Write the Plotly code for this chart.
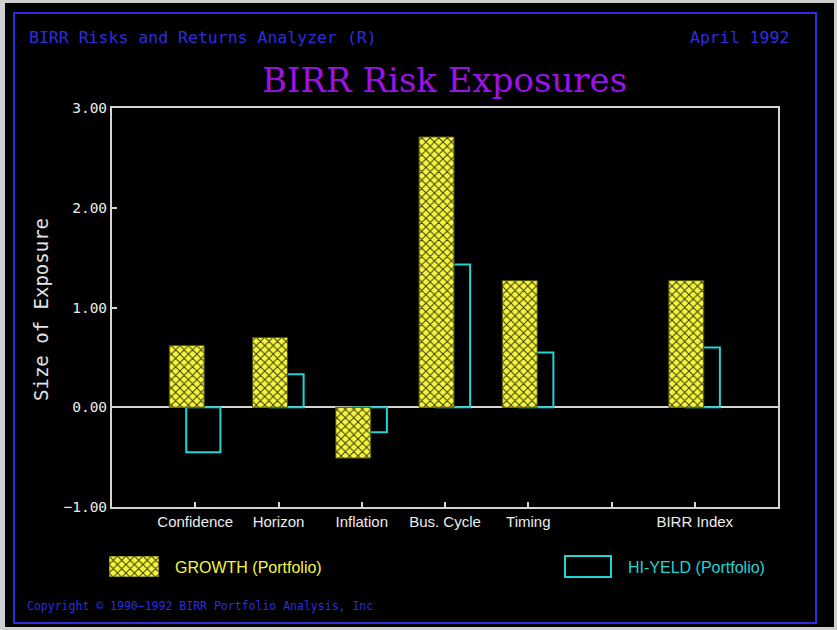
import plotly.graph_objects as go

# ---- data ----
categories = ["Confidence", "Horizon", "Inflation", "Bus. Cycle", "Timing", "", "BIRR Index"]
growth = [0.62, 0.70, -0.51, 2.71, 1.27, None, 1.27]
hi_yield = [-0.45, 0.33, -0.25, 1.43, 0.55, None, 0.60]
series_names = ["GROWTH (Portfolio)", "HI-YELD (Portfolio)"]
y_ticks = [-1, 0, 1, 2, 3]

W, H = 837, 630
def px(x):
    return x / W
def py(y):
    return 1 - y / H

x_pos = list(range(1, len(categories) + 1))

YEL = "#f6f640"
CYAN = "#22d4d4"
BLUE = "#2d2de0"
PURPLE = "#9a12e8"
AXC = "#d4d4d4"

pattern = dict(shape="x", fgcolor="#3a3a08", bgcolor=YEL, size=6, solidity=0.3, fillmode="replace")

fig = go.Figure()
fig.add_trace(go.Bar(
    x=x_pos, y=hi_yield, name=series_names[1], offset=-0.108, width=0.41,
    marker=dict(color="rgba(0,0,0,0)", line=dict(color=CYAN, width=2)),
    showlegend=False,
))
fig.add_trace(go.Bar(
    x=x_pos, y=growth, name=series_names[0], offset=-0.312, width=0.42,
    marker=dict(color=YEL, pattern=pattern, line=dict(color="#505008", width=1)),
    showlegend=False,
))
# legend swatch with pattern (separate tiny axes)
fig.add_trace(go.Bar(
    x=[0.5], y=[1], width=[1], base=[0], xaxis="x2", yaxis="y2",
    marker=dict(color=YEL, pattern=pattern, line=dict(color="#505008", width=1)),
    showlegend=False, hoverinfo="skip",
))

fig.update_layout(
    width=W, height=H,
    margin=dict(l=0, r=0, t=0, b=0, autoexpand=False),
    paper_bgcolor="#cfcfcf",
    plot_bgcolor="rgba(0,0,0,0)",
    barmode="overlay",
    xaxis=dict(
        domain=[px(112), px(778)], range=[0, len(categories) + 1],
        tickvals=x_pos, ticktext=categories,
        ticks="inside", ticklen=5, tickwidth=2, tickcolor=AXC,
        showline=True, linecolor=AXC, linewidth=2, mirror=True,
        showgrid=False, zeroline=False,
        tickfont=dict(family="Liberation Sans", size=15, color="#ececec"),
        fixedrange=True,
    ),
    yaxis=dict(
        domain=[py(507), py(108)], range=[-1, 3],
        tickvals=y_ticks, tickformat=".2f",
        ticks="inside", ticklen=5, tickwidth=2, tickcolor=AXC,
        showline=True, linecolor=AXC, linewidth=2, mirror=True,
        showgrid=False, zeroline=True, zerolinecolor=AXC, zerolinewidth=2,
        tickfont=dict(family="DejaVu Sans Mono", size=14.5, color="#ececec"),
        fixedrange=True,
    ),
    xaxis2=dict(domain=[px(109), px(159)], range=[0, 1], visible=False, fixedrange=True, anchor="y2"),
    yaxis2=dict(domain=[py(577), py(556)], range=[0, 1], visible=False, fixedrange=True, anchor="x2"),
    shapes=[
        dict(type="rect", xref="paper", yref="paper", x0=px(5), x1=px(834), y0=py(3), y1=py(627),
             fillcolor="black", line=dict(width=0), layer="below"),
        dict(type="rect", xref="paper", yref="paper", x0=px(14), x1=px(816), y0=py(13), y1=py(623),
             fillcolor="rgba(0,0,0,0)", line=dict(color=BLUE, width=2), layer="below"),
        dict(type="rect", xref="paper", yref="paper", x0=px(565), x1=px(611), y0=py(556), y1=py(577),
             fillcolor="rgba(0,0,0,0)", line=dict(color=CYAN, width=2)),
    ],
    annotations=[
        dict(text="BIRR Risks and Returns Analyzer (R)", xref="paper", yref="paper",
             x=px(27), y=py(37), xanchor="left", yanchor="middle", showarrow=False,
             font=dict(family="DejaVu Sans Mono", size=16.5, color=BLUE)),
        dict(text="April 1992", xref="paper", yref="paper",
             x=px(791), y=py(37), xanchor="right", yanchor="middle", showarrow=False,
             font=dict(family="DejaVu Sans Mono", size=16.5, color=BLUE)),
        dict(text="BIRR Risk Exposures", xref="paper", yref="paper",
             x=px(445), y=py(80), xanchor="center", yanchor="middle", showarrow=False,
             font=dict(family="DejaVu Serif", size=34, color=PURPLE)),
        dict(text="Size of Exposure", xref="paper", yref="paper", textangle=-90,
             x=px(41), y=py(310), xanchor="center", yanchor="middle", showarrow=False,
             font=dict(family="DejaVu Sans Mono", size=19, color="#e4e4e4")),
        dict(text=series_names[0], xref="paper", yref="paper",
             x=px(173), y=py(567), xanchor="left", yanchor="middle", showarrow=False,
             font=dict(family="Liberation Sans", size=16, color=YEL)),
        dict(text=series_names[1], xref="paper", yref="paper",
             x=px(626), y=py(567), xanchor="left", yanchor="middle", showarrow=False,
             font=dict(family="Liberation Sans", size=16, color=CYAN)),
        dict(text="Copyright © 1990\u20131992 BIRR Portfolio Analysis, Inc", xref="paper", yref="paper",
             x=px(25), y=py(606), xanchor="left", yanchor="middle", showarrow=False,
             font=dict(family="DejaVu Sans Mono", size=11.5, color=BLUE)),
    ],
)

fig.write_html("out.html")
